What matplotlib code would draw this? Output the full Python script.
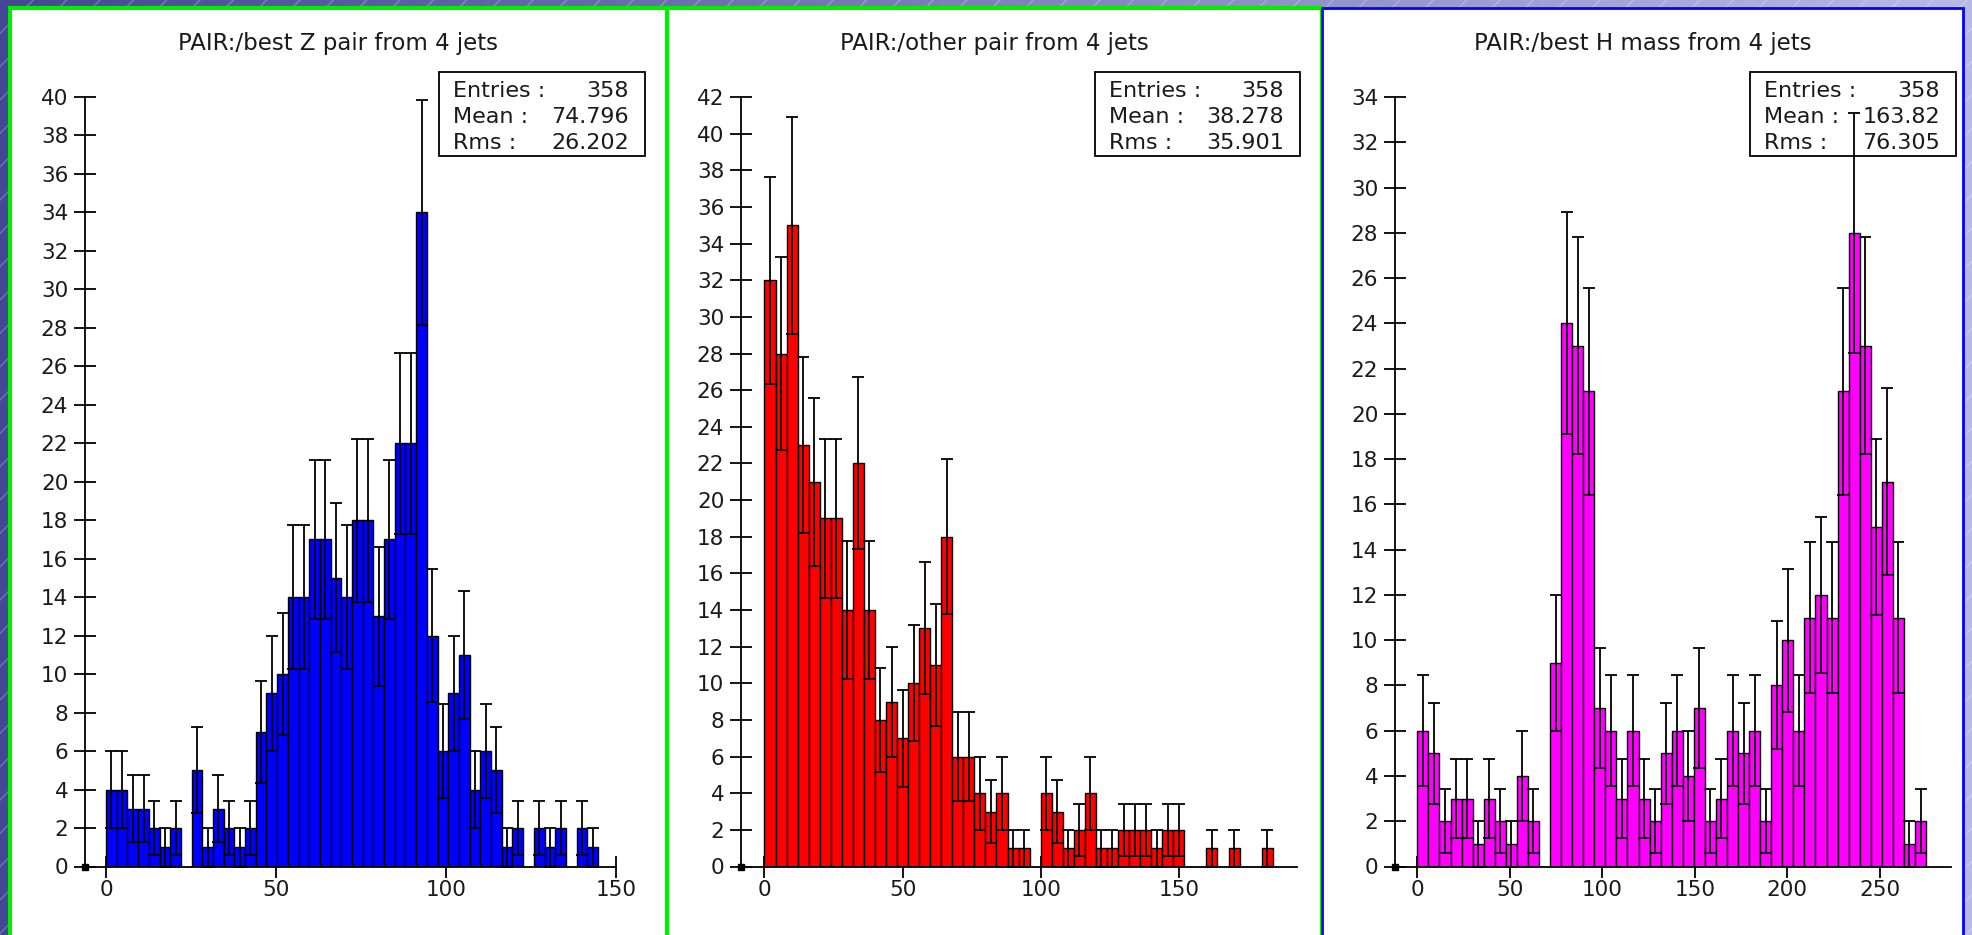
import numpy as np
import matplotlib
matplotlib.use('Agg')
import matplotlib.pyplot as plt
from matplotlib.patches import Rectangle

plt.rcParams['font.family'] = ['DejaVu Sans']

# PAIR histograms, 46 bins each, entries per bin
z_counts = [4, 4, 3, 3, 2, 1, 2, 0, 5, 1, 3, 2, 1, 2, 7, 9, 10, 14, 14, 17, 17, 15, 14,
            18, 18, 13, 17, 22, 22, 34, 12, 6, 9, 11, 4, 6, 5, 1, 2, 0, 2, 1, 2, 0, 2, 1]
other_counts = [32, 28, 35, 23, 21, 19, 19, 14, 22, 14, 8, 9, 7, 10, 13, 11, 18, 6, 6, 4, 3, 4, 1,
                1, 0, 4, 3, 1, 2, 4, 1, 1, 2, 2, 2, 1, 2, 2, 0, 0, 1, 0, 1, 0, 0, 1]
h_counts = [6, 5, 2, 3, 3, 1, 3, 2, 1, 4, 2, 0, 9, 24, 23, 21, 7, 6, 3, 6, 3, 2, 5,
            6, 4, 7, 2, 3, 6, 5, 6, 2, 8, 10, 6, 11, 12, 11, 21, 28, 23, 15, 17, 11, 1, 2]

# histogram ranges (lower, upper edge)
z_range = (0.0, 144.7)
other_range = (0.0, 184.0)
h_range = (0.0, 275.0)

titles = ['PAIR:/best Z pair from 4 jets',
          'PAIR:/other pair from 4 jets',
          'PAIR:/best H mass from 4 jets']
means = ['74.796', '38.278', '163.82']
rmss = ['26.202', '35.901', '76.305']

W, H = 1972, 935
fig = plt.figure(figsize=(W / 100, H / 100), dpi=100)

def fx(px):
    return px / W

def fy(py):
    return 1 - py / H

# slide background: dark-to-light blue gradient with diagonal hatching
bg = fig.add_axes([0, 0, 1, 1], zorder=-10)
grad = np.linspace(0, 1, 256)[None, :]
c0 = np.array([70, 70, 150]) / 255
c1 = np.array([185, 185, 230]) / 255
img = c0[None, None, :] * (1 - grad[..., None]) + c1[None, None, :] * grad[..., None]
bg.imshow(img, extent=(0, W, H, 0), aspect='auto')
bg.add_patch(Rectangle((0, 0), W, H, fill=False, hatch='/', edgecolor=(1, 1, 1, 0.25), linewidth=0))
bg.set_xlim(0, W)
bg.set_ylim(H, 0)
bg.axis('off')

# white panels with frame
frames = [(10, 667, '#00ee00', 3.0), (667, 1322, '#00ee00', 3.0), (1322, 1963, '#0000ff', 2.0)]
for left, right, ec, lw in frames:
    bg.add_patch(Rectangle((left, 8), right - left, H, facecolor='white', edgecolor=ec, linewidth=lw))

ax_px = [(85, 616), (741, 1297), (1395, 1951)]
ax_top, ax_bot = 97, 866.5
xlims = [(-6.2, 150), (-8.5, 192.8), (-12.1, 288.5)]
ylims = [40, 42, 34]
box_px = [(439, 645), (1095, 1300), (1750, 1956)]
colors = ['#0000ff', '#ff0000', '#ff00ff']
txt = '#1a1a1a'

hists = [(z_counts, z_range), (other_counts, other_range), (h_counts, h_range)]

for i, (counts, rng) in enumerate(hists):
    counts = np.array(counts, dtype=float)
    edges = np.linspace(rng[0], rng[1], len(counts) + 1)
    width = edges[1] - edges[0]
    centers = edges[:-1] + width / 2

    l, r = ax_px[i]
    ax = fig.add_axes([fx(l), fy(ax_bot), fx(r) - fx(l), fy(ax_top) - fy(ax_bot)])
    ax.patch.set_visible(False)

    ax.bar(edges[:-1], counts, width=width, align='edge', color=colors[i],
           edgecolor='black', linewidth=1.0, zorder=2)
    m = counts > 0
    ax.errorbar(centers[m], counts[m], yerr=np.sqrt(counts[m]), fmt='none',
                ecolor='black', elinewidth=1.3, capsize=4, capthick=1.3, zorder=4)

    ax.set_xlim(*xlims[i])
    ax.set_ylim(0, ylims[i])
    ax.set_yticks(np.arange(0, ylims[i] + 1, 2))
    ax.set_xticks(np.arange(0, xlims[i][1] + 1, 50))
    for s in ['top', 'right']:
        ax.spines[s].set_visible(False)
    for s in ['left', 'bottom']:
        ax.spines[s].set_linewidth(1.3)
    ax.tick_params(direction='inout', length=16, width=1.3, labelsize=15.5,
                   colors='black', labelcolor=txt)
    ax.tick_params(axis='y', pad=4)
    ax.tick_params(axis='x', pad=2)
    ax.set_axisbelow(True)
    ax.plot([xlims[i][0]], [0], marker='s', ms=4, color='black', clip_on=False, zorder=5)

    # title
    pl, pr = frames[i][0], frames[i][1]
    fig.text(fx((pl + pr) / 2), fy(50), titles[i], ha='center', va='baseline',
             fontsize=16.5, color=txt)

    # statistics box (below error bars)
    bl, br = box_px[i]
    ax.add_patch(Rectangle((fx(bl), fy(156)), fx(br) - fx(bl), fy(72) - fy(156),
                           transform=fig.transFigure, facecolor='white', edgecolor='black',
                           linewidth=1.3, clip_on=False, zorder=3))
    rows = [('Entries :', '%d' % counts.sum()), ('Mean :', means[i]), ('Rms :', rmss[i])]
    for j, (lab, val) in enumerate(rows):
        yb = fy(97 + 26 * j)
        ax.text(fx(bl + 14), yb, lab, transform=fig.transFigure, ha='left', va='baseline',
                fontsize=16, color=txt, clip_on=False, zorder=3.5)
        ax.text(fx(br - 16), yb, val, transform=fig.transFigure, ha='right', va='baseline',
                fontsize=16, color=txt, clip_on=False, zorder=3.5)

fig.savefig('out.png', dpi=100)
